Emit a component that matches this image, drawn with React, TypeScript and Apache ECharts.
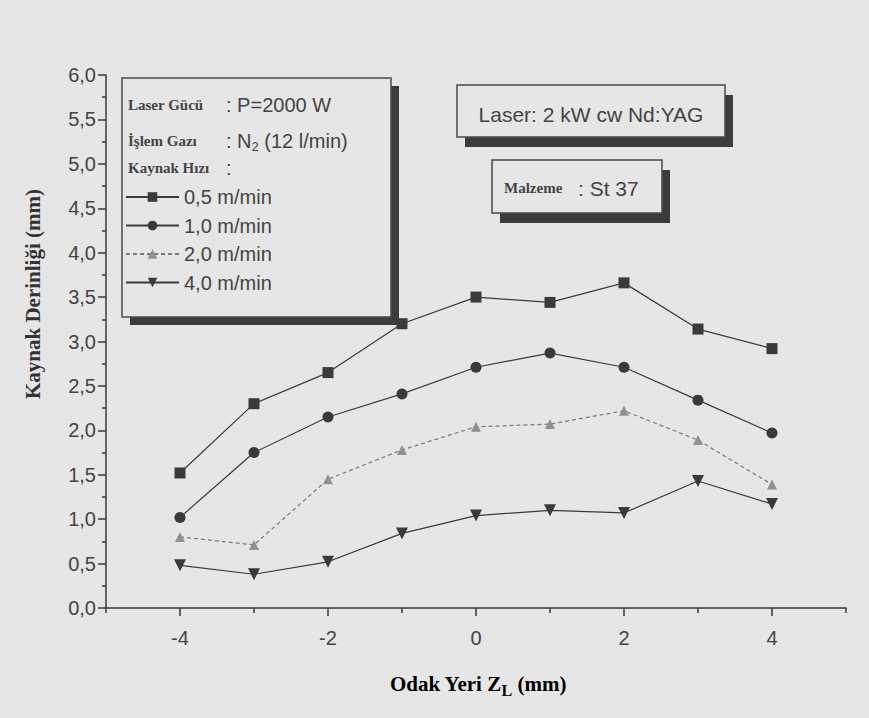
import React, { useEffect, useRef } from "react";
import * as echarts from "echarts";

const xValues = [-4, -3, -2, -1, 0, 1, 2, 3, 4];
const depth05 = [1.52, 2.3, 2.65, 3.2, 3.5, 3.44, 3.66, 3.14, 2.92];
const depth10 = [1.02, 1.75, 2.15, 2.41, 2.71, 2.87, 2.71, 2.34, 1.97];
const depth20 = [0.8, 0.71, 1.45, 1.78, 2.04, 2.07, 2.22, 1.89, 1.39];
const depth40 = [0.48, 0.38, 0.52, 0.84, 1.04, 1.1, 1.07, 1.43, 1.17];
const seriesNames = ["0,5 m/min", "1,0 m/min", "2,0 m/min", "4,0 m/min"];
const xMajorTicks = [-4, -2, 0, 2, 4];
const xMinorTicks = [-5, -3, -1, 1, 3, 5];
const yTickLabels = ["0,0", "0,5", "1,0", "1,5", "2,0", "2,5", "3,0", "3,5", "4,0", "4,5", "5,0", "5,5", "6,0"];

const SANS = '"Liberation Sans", Arial, sans-serif';
const SERIF = '"Liberation Serif", "Times New Roman", serif';
const BG = "#e6e6e6";
const INK = "#3a3a3a";

function pts(ys: number[]) {
  return xValues.map((x, i) => [x, ys[i]]);
}

function shadowBox(x: number, y: number, w: number, h: number, dx: number, dy: number) {
  return [
    { type: "rect", z: 1, shape: { x: x + dx, y: y + dy, width: w, height: h }, style: { fill: "#3c3c3c" } },
    { type: "rect", z: 1, shape: { x, y, width: w, height: h }, style: { fill: BG, stroke: "#4a4a4a", lineWidth: 1.5 } },
  ];
}

export default function App() {
  const ref = useRef<HTMLDivElement>(null);
  useEffect(() => {
    if (!ref.current) return;
    const chart = echarts.init(ref.current, null, { renderer: "svg" });
    const lineBase = (name: string, data: number[], symbol: string, extra: any) => ({
      name,
      type: "line",
      data: pts(data),
      symbol,
      symbolSize: 11,
      z: 3,
      lineStyle: { color: INK, width: 1.2 },
      itemStyle: { color: INK },
      ...extra,
    });
    chart.setOption({
      animation: false,
      backgroundColor: BG,
      grid: { left: 106, right: 23, top: 75, bottom: 110, containLabel: false },
      xAxis: [
        {
          type: "value",
          min: -5,
          max: 5,
          interval: 1,
          axisLine: { show: true, onZero: false, lineStyle: { color: INK, width: 1.5 } },
          axisTick: { show: true, customValues: xMajorTicks, length: 8, lineStyle: { color: INK, width: 1.5 } },
          axisLabel: {
            customValues: xMajorTicks,
            margin: 20,
            color: "#444",
            fontSize: 20,
            fontFamily: SANS,
            formatter: (v: number) => String(v),
          },
          splitLine: { show: false },
        },
        {
          type: "value",
          min: -5,
          max: 5,
          interval: 1,
          position: "bottom",
          axisLine: { show: false, onZero: false },
          axisTick: { show: true, customValues: xMinorTicks, length: 5, lineStyle: { color: INK, width: 1.5 } },
          axisLabel: { show: false },
          splitLine: { show: false },
        },
      ],
      yAxis: {
        type: "value",
        min: 0,
        max: 6,
        interval: 0.5,
        axisLine: { show: true, onZero: false, lineStyle: { color: INK, width: 1.5 } },
        axisTick: { show: true, length: 8, lineStyle: { color: INK, width: 1.5 } },
        minorTick: { show: true, splitNumber: 2, length: 4, lineStyle: { color: INK, width: 1.5 } },
        axisLabel: {
          margin: 10,
          color: "#444",
          fontSize: 20,
          fontFamily: SANS,
          formatter: (v: number) => yTickLabels[Math.round(v / 0.5)],
        },
        splitLine: { show: false },
      },
      legend: {
        orient: "vertical",
        left: 125,
        top: 186,
        padding: 0,
        itemWidth: 53,
        itemHeight: 12,
        itemGap: 6.5,
        z: 5,
        textStyle: { color: "#444", fontSize: 20, fontFamily: SANS, lineHeight: 22 },
        data: seriesNames,
      },
      series: [
        lineBase(seriesNames[0], depth05, "rect", {}),
        lineBase(seriesNames[1], depth10, "circle", {}),
        lineBase(seriesNames[2], depth20, "triangle", {
          symbolSize: 10,
          lineStyle: { color: "#7a7a7a", width: 1.2, type: [4, 3] },
          itemStyle: { color: "#909090" },
        }),
        lineBase(seriesNames[3], depth40, "triangle", { symbolRotate: 180, symbolSize: 12 }),
      ],
      graphic: [
        ...shadowBox(122, 78, 269, 239, 8, 8),
        ...shadowBox(457, 85, 268, 52, 8, 10),
        ...shadowBox(492, 160, 170, 53, 8, 10),
        { type: "text", z: 6, style: { text: "Laser Gücü", x: 128, y: 105, textVerticalAlign: "middle", font: `bold 15px ${SERIF}`, fill: "#444" } },
        { type: "text", z: 6, style: { text: ": P=2000 W", x: 226, y: 105, textVerticalAlign: "middle", font: `20px ${SANS}`, fill: "#444" } },
        { type: "text", z: 6, style: { text: "İşlem Gazı", x: 128, y: 141, textVerticalAlign: "middle", font: `bold 15px ${SERIF}`, fill: "#444" } },
        {
          type: "text",
          z: 6,
          style: {
            text: "{a|: N}{s|2}{a| (12 l/min)}",
            x: 226,
            y: 141,
            textVerticalAlign: "middle",
            fill: "#444",
            rich: {
              a: { fontSize: 20, fontFamily: SANS, fill: "#444", color: "#444" },
              s: { fontSize: 13, fontFamily: SANS, fill: "#444", color: "#444", padding: [10, 0, 0, 0] },
            },
          },
        },
        { type: "text", z: 6, style: { text: "Kaynak Hızı", x: 128, y: 168, textVerticalAlign: "middle", font: `bold 15px ${SERIF}`, fill: "#444" } },
        { type: "text", z: 6, style: { text: ":", x: 226, y: 168, textVerticalAlign: "middle", font: `20px ${SANS}`, fill: "#444" } },
        { type: "text", z: 6, style: { text: "Laser: 2 kW cw Nd:YAG", x: 591, y: 114, textAlign: "center", textVerticalAlign: "middle", font: `21px ${SANS}`, fill: "#444" } },
        { type: "text", z: 6, style: { text: "Malzeme", x: 504, y: 188, textVerticalAlign: "middle", font: `bold 15px ${SERIF}`, fill: "#444" } },
        { type: "text", z: 6, style: { text: ": St 37", x: 578, y: 188, textVerticalAlign: "middle", font: `21px ${SANS}`, fill: "#444" } },
        {
          type: "text",
          x: 33,
          y: 294,
          rotation: Math.PI / 2,
          style: { text: "Kaynak Derinliği (mm)", textAlign: "center", textVerticalAlign: "middle", font: `bold 21px ${SERIF}`, fill: "#333" },
        },
        {
          type: "text",
          style: {
            text: "{a|Odak Yeri Z}{s|L}{a| (mm)}",
            x: 478,
            y: 684,
            textAlign: "center",
            textVerticalAlign: "middle",
            rich: {
              a: { fontSize: 21, fontWeight: "bold", fontFamily: SERIF, color: "#333" },
              s: { fontSize: 16, fontWeight: "bold", fontFamily: SERIF, color: "#333", padding: [12, 0, 0, 0] },
            },
          },
        },
      ],
    });
    return () => chart.dispose();
  }, []);
  return <div ref={ref} style={{ position: "fixed", left: 0, top: 0, width: 869, height: 718 }} />;
}
